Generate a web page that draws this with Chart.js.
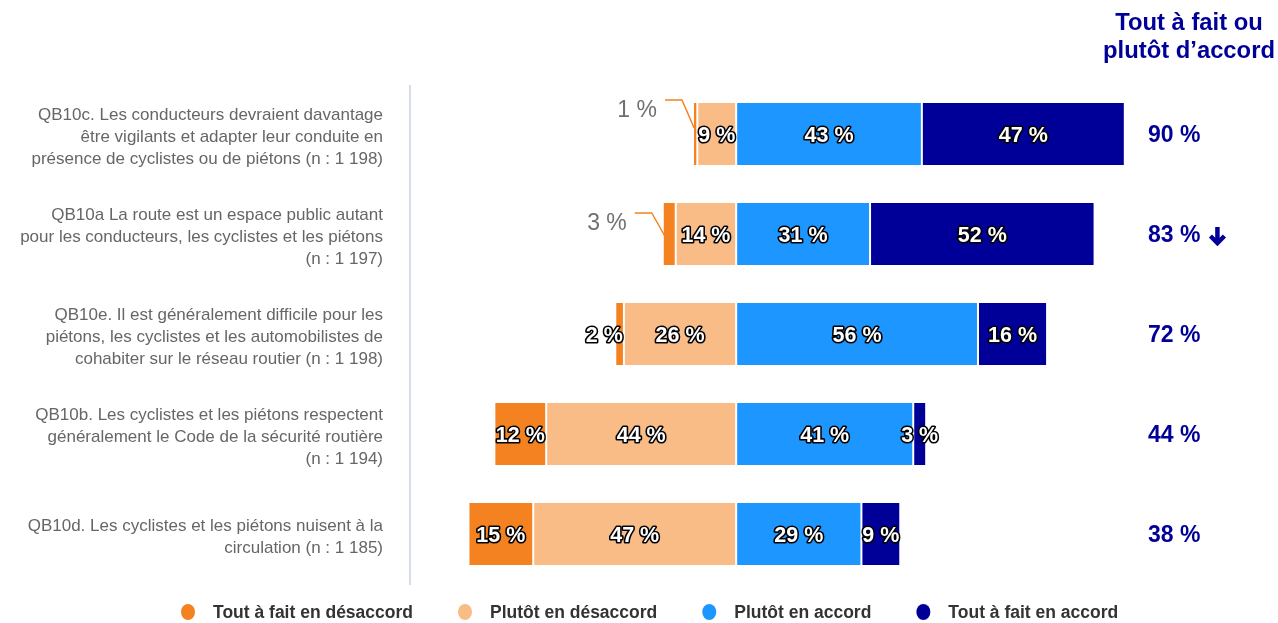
<!DOCTYPE html>
<html>
<head>
<meta charset="utf-8">
<script src="https://cdn.jsdelivr.net/npm/chart.js@4"></script>
<style>
  html, body { margin: 0; padding: 0; background: #fff; }
  #wrap { width: 1278px; height: 623px; position: relative; }
</style>
</head>
<body>
<div id="wrap"><canvas id="accordChart"></canvas></div>
<script>
// questions (one entry per bar, split into the lines shown on the left)
const questions = [
  ["QB10c. Les conducteurs devraient davantage", "être vigilants et adapter leur conduite en", "présence de cyclistes ou de piétons (n : 1 198)"],
  ["QB10a La route est un espace public autant", "pour les conducteurs, les cyclistes et les piétons", "(n : 1 197)"],
  ["QB10e. Il est généralement difficile pour les", "piétons, les cyclistes et les automobilistes de", "cohabiter sur le réseau routier (n : 1 198)"],
  ["QB10b. Les cyclistes et les piétons respectent", "généralement le Code de la sécurité routière", "(n : 1 194)"],
  ["QB10d. Les cyclistes et les piétons nuisent à la", "circulation (n : 1 185)"]
];

const toutDesaccord = [1, 3, 2, 12, 15];
const plutotDesaccord = [9, 14, 26, 44, 47];
const plutotAccord = [43, 31, 56, 41, 29];
const toutAccord = [47, 52, 16, 3, 9];

// "Tout à fait ou plutôt d'accord" column
const totalAccord = [90, 83, 72, 44, 38];
const trendDown = [false, true, false, false, false];

const legendLabels = ["Tout à fait en désaccord", "Plutôt en désaccord", "Plutôt en accord", "Tout à fait en accord"];

const ORANGE = "#F58220";
const PEACH = "#F9BC87";
const BLUE = "#1E96FF";
const NAVY = "#000099";
const FONT = "'Liberation Sans', Arial, sans-serif";

// rows whose first segment is too thin: label goes outside with a leader line
const calloutRows = { 0: { dy: -2, tip: 26 }, 1: { dy: 11, tip: 40 } };

const sidePlugin = {
  id: "sideText",
  afterDraw(chart) {
    const ctx = chart.ctx;
    const yScale = chart.scales.y;
    ctx.save();

    // separator line
    ctx.strokeStyle = "#C8D0E2";
    ctx.lineWidth = 1.5;
    ctx.beginPath();
    ctx.moveTo(410, 85);
    ctx.lineTo(410, 585);
    ctx.stroke();

    // question labels
    ctx.font = "17px " + FONT;
    ctx.fillStyle = "#666666";
    ctx.textAlign = "right";
    ctx.textBaseline = "middle";
    questions.forEach((lines, i) => {
      const cy = yScale.getPixelForValue(i) + 3;
      const lh = 22;
      const y0 = cy - (lines.length - 1) * lh / 2;
      lines.forEach((line, j) => ctx.fillText(line, 383, y0 + j * lh));
    });

    // right column header
    ctx.fillStyle = NAVY;
    ctx.font = "bold 23.8px " + FONT;
    ctx.textAlign = "center";
    ctx.fillText("Tout à fait ou", 1189, 23);
    ctx.fillText("plutôt d’accord", 1189, 51);

    // totals
    ctx.font = "bold 23px " + FONT;
    ctx.textAlign = "left";
    totalAccord.forEach((v, i) => {
      const y = yScale.getPixelForValue(i) + 2;
      const txt = v + " %";
      ctx.fillText(txt, 1148, y);
      if (trendDown[i]) {
        const ax = 1148 + ctx.measureText(txt).width + 17;
        ctx.strokeStyle = NAVY;
        ctx.lineWidth = 4.5;
        ctx.lineCap = "butt";
        ctx.beginPath();
        ctx.moveTo(ax, y - 9);
        ctx.lineTo(ax, y + 6);
        ctx.stroke();
        ctx.lineJoin = "miter";
        ctx.beginPath();
        ctx.moveTo(ax - 7, y);
        ctx.lineTo(ax, y + 7);
        ctx.lineTo(ax + 7, y);
        ctx.stroke();
      }
    });

    // legend
    const colors = [ORANGE, PEACH, BLUE, NAVY];
    ctx.font = "bold 17.5px " + FONT;
    ctx.textBaseline = "middle";
    let x = 181;
    const ly = 612;
    legendLabels.forEach((label, i) => {
      ctx.fillStyle = colors[i];
      ctx.beginPath();
      ctx.ellipse(x + 7, ly, 7, 8, 0, 0, Math.PI * 2);
      ctx.fill();
      ctx.fillStyle = "#333333";
      ctx.fillText(label, x + 32, ly + 1);
      x += 32 + ctx.measureText(label).width + 45;
    });

    ctx.restore();
  }
};

const valuePlugin = {
  id: "segmentValues",
  afterDatasetsDraw(chart) {
    const ctx = chart.ctx;
    ctx.save();
    ctx.textAlign = "center";
    ctx.textBaseline = "middle";
    ctx.lineJoin = "round";
    chart.data.datasets.forEach((ds, di) => {
      const meta = chart.getDatasetMeta(di);
      meta.data.forEach((bar, i) => {
        const v = Math.abs(ds.data[i]);
        const left = Math.min(bar.x, bar.base);
        const right = Math.max(bar.x, bar.base);
        const top = bar.y - bar.height / 2;
        let cx = (left + right) / 2;
        const txt = v + " %";

        if (ds.outer && ds.data[i] < 0 && calloutRows[i]) {
          // outside label with a leader line
          const c = calloutRows[i];
          const ly = top + c.dy;
          ctx.strokeStyle = ORANGE;
          ctx.lineWidth = 1.5;
          ctx.beginPath();
          ctx.moveTo(left - 28, ly);
          ctx.lineTo(left - 11, ly);
          ctx.lineTo(cx - 1, top + c.tip);
          ctx.stroke();
          ctx.font = "23px " + FONT;
          ctx.fillStyle = "#707070";
          ctx.textAlign = "right";
          ctx.fillText(txt, left - 36, ly + 11);
          ctx.textAlign = "center";
          return;
        }

        ctx.font = "bold 21.5px " + FONT;
        const w = ctx.measureText(txt).width;
        if (ds.outer && ds.data[i] < 0 && right - left < 12) {
          cx = right - w / 2 - 1;
        }
        ctx.lineWidth = 3.2;
        ctx.strokeStyle = "#000000";
        ctx.strokeText(txt, cx, bar.y + 2);
        ctx.fillStyle = "#ffffff";
        ctx.fillText(txt, cx, bar.y + 2);
      });
    });
    ctx.restore();
  }
};

// negatives stack outward from zero in dataset order
const datasets = [
  { label: legendLabels[1], data: plutotDesaccord.map(v => -v), backgroundColor: PEACH },
  { label: legendLabels[0], data: toutDesaccord.map(v => -v), backgroundColor: ORANGE, outer: true },
  { label: legendLabels[2], data: plutotAccord, backgroundColor: BLUE },
  { label: legendLabels[3], data: toutAccord, backgroundColor: NAVY }
].map(d => Object.assign(d, {
  borderColor: "#ffffff",
  borderWidth: 1,
  borderSkipped: false,
  categoryPercentage: 1,
  barPercentage: 0.64
}));

new Chart(document.getElementById("accordChart"), {
  type: "bar",
  data: {
    labels: questions.map(q => q.join(" ")),
    datasets: datasets
  },
  options: {
    indexAxis: "y",
    responsive: true,
    maintainAspectRatio: false,
    animation: false,
    layout: { padding: { left: 408, right: 110, top: 84, bottom: 39 } },
    scales: {
      x: { stacked: true, min: -76, max: 100, display: false },
      y: { stacked: true, display: false }
    },
    plugins: {
      legend: { display: false },
      tooltip: { enabled: false }
    }
  },
  plugins: [valuePlugin, sidePlugin]
});
</script>
</body>
</html>
